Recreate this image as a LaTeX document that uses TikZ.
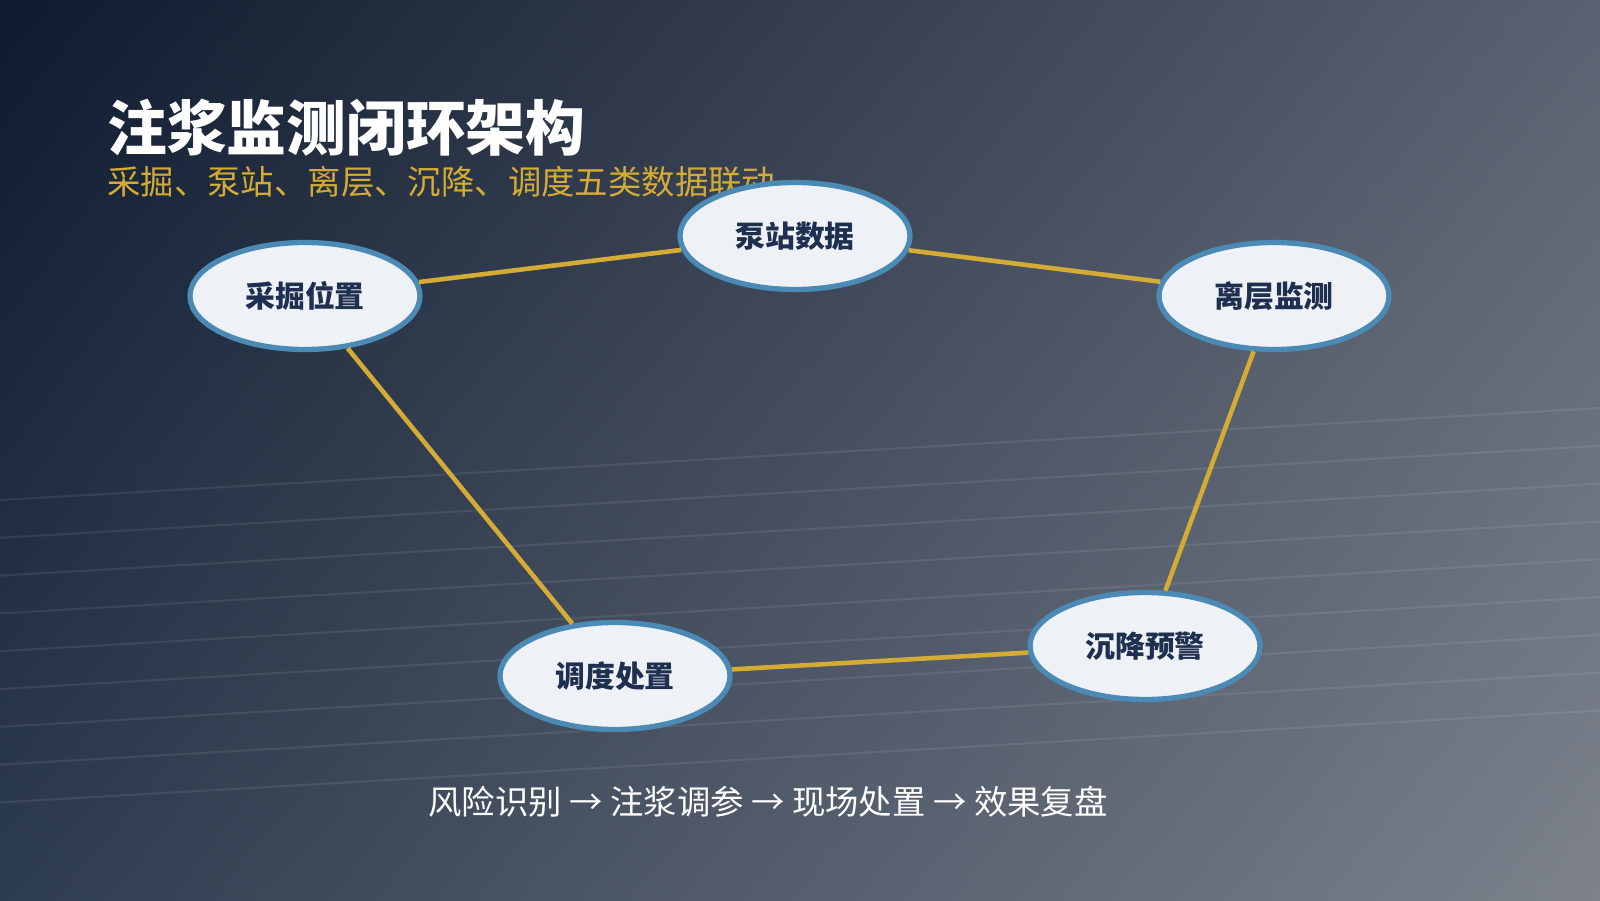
\documentclass[tikz,border=0pt]{standalone}
\usepackage{fontspec}
\setmainfont{Noto Sans CJK SC}
\usetikzlibrary{shapes.geometric,shadings}
\definecolor{bgtl}{HTML}{0E1A2E}
\definecolor{bgtr}{HTML}{5A6170}
\definecolor{bgbl}{HTML}{2E3C50}
\definecolor{bgbr}{HTML}{7D828C}
\definecolor{nodefill}{HTML}{EEF1F5}
\definecolor{nodeline}{HTML}{4A8AB5}
\definecolor{nodetext}{HTML}{1E2F4F}
\definecolor{linkgold}{HTML}{D4AC35}
\tikzset{
  stage/.style={ellipse, draw=nodeline, line width=1.5pt, fill=nodefill,
    minimum width=2.3cm, minimum height=1.07cm, text=nodetext,
    font=\fontsize{8.5}{10}\selectfont\bfseries},
  link/.style={linkgold, line width=1.3pt}
}
\begin{document}
\begin{tikzpicture}
  \useasboundingbox (0,0) rectangle (16,9);
  % background
  \shade[upper left=bgtl, upper right=bgtr, lower left=bgbl, lower right=bgbr] (0,0) rectangle (16,9);
  \foreach \y in {0,1,...,8}
    \draw[white, opacity=0.08, line width=0.6pt] (0,{4.0-0.378*\y}) -- (16,{4.92-0.378*\y});

  % titles
  \node[anchor=west, text=white, font=\fontsize{17}{20}\selectfont\bfseries] (title) at (0.95,7.72) {注浆监测闭环架构};
  \node[anchor=west, text=linkgold, font=\fontsize{9.5}{11}\selectfont] (subtitle) at (0.95,7.18) {采掘、泵站、离层、沉降、调度五类数据联动};

  % stages
  \node[stage] (mining) at (3.05,6.04) {采掘位置};
  \node[stage] (pump) at (7.95,6.64) {泵站数据};
  \node[stage] (sep) at (12.74,6.04) {离层监测};
  \node[stage] (settle) at (11.45,2.54) {沉降预警};
  \node[stage] (dispatch) at (6.15,2.24) {调度处置};

  % links
  \draw[link] (mining) -- (pump);
  \draw[link] (pump) -- (sep);
  \draw[link] (sep) -- (settle);
  \draw[link] (settle) -- (dispatch);
  \draw[link] (dispatch) -- (mining);

  % flow
  \node[text=white, font=\fontsize{9.5}{11}\selectfont] (flow) at (7.68,0.98) {风险识别 → 注浆调参 → 现场处置 → 效果复盘};
\end{tikzpicture}
\end{document}
